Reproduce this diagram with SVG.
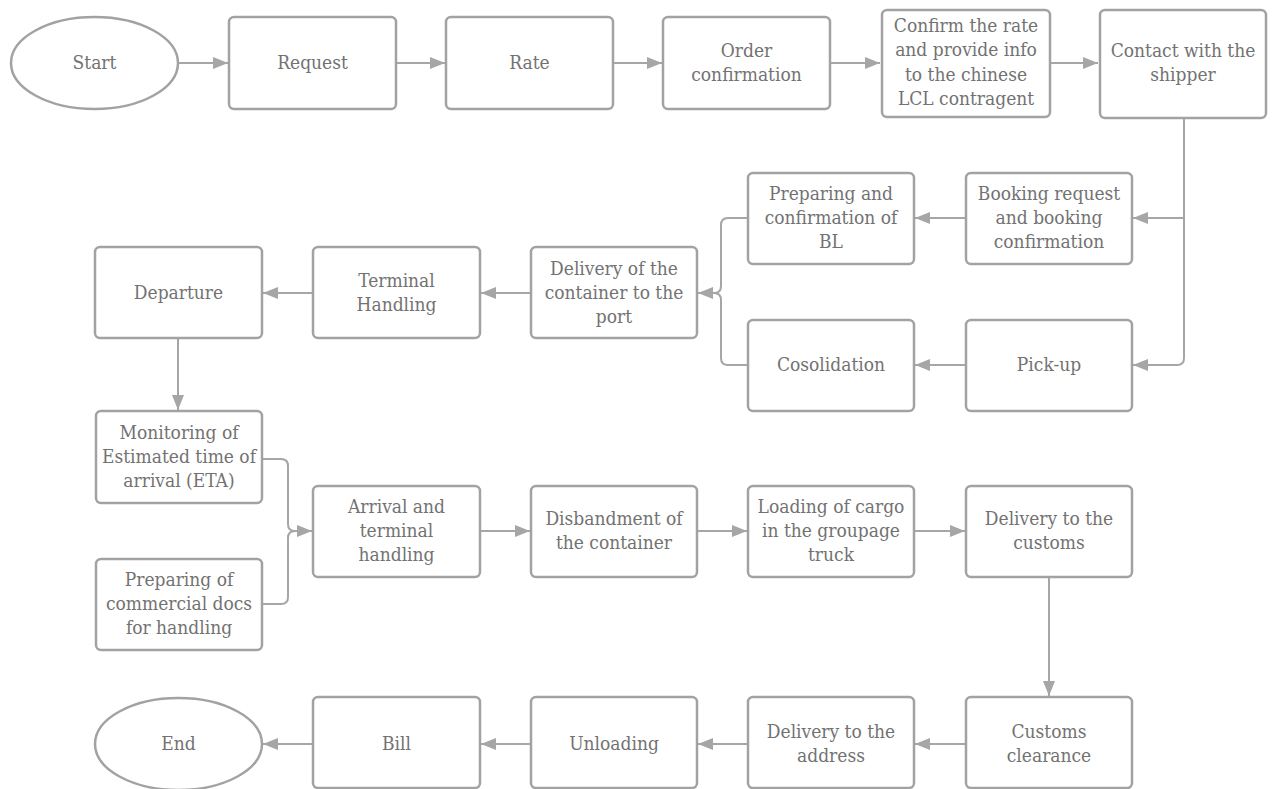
<svg xmlns="http://www.w3.org/2000/svg" width="1275" height="789" viewBox="0 0 1275 789">
  <style>
    .box { fill: #ffffff; stroke: #a2a2a2; stroke-width: 2.5; }
    .lbl { font-family: "DejaVu Serif", serif; font-stretch: condensed; font-size: 19px; fill: #727272; text-anchor: middle; }
    .wire { fill: none; stroke: #a6a6a6; stroke-width: 2; }
  </style>
  <defs>
    <marker id="arrow" markerUnits="userSpaceOnUse" markerWidth="16" markerHeight="12" refX="15" refY="6" orient="auto">
      <path d="M0,0 L15,6 L0,12 Z" fill="#a6a6a6"/>
    </marker>
  </defs>
  <rect width="1275" height="789" fill="#ffffff"/>

  <!-- connectors -->
  <g id="connectors" class="wire" marker-end="url(#arrow)">
    <path d="M178,63 H228"/>
    <path d="M396,63 H445"/>
    <path d="M613,63 H662"/>
    <path d="M830,63 H880"/>
    <path d="M1050,63 H1098"/>
    <path d="M1184,118 V358 Q1184,365 1177,365 H1133"/>
    <path d="M1184,218 H1133"/>
    <path d="M966,218 H915"/>
    <path d="M966,365 H915"/>
    <path d="M748,218 H728 Q721,218 721,225 V286 Q721,293 714,293 H698"/>
    <path d="M748,365 H728 Q721,365 721,358 V300 Q721,293 714,293" marker-end="none"/>
    <path d="M531,293 H481"/>
    <path d="M313,293 H263"/>
    <path d="M178,338 V410"/>
    <path d="M262,459 H281 Q288,459 288,466 V524 Q288,531 295,531 H312"/>
    <path d="M262,604 H281 Q288,604 288,597 V538 Q288,531 295,531" marker-end="none"/>
    <path d="M480,531 H530"/>
    <path d="M697,531 H747"/>
    <path d="M914,531 H965"/>
    <path d="M1049,577 V696"/>
    <path d="M966,744 H915"/>
    <path d="M748,744 H698"/>
    <path d="M531,744 H481"/>
    <path d="M313,744 H263"/>
  </g>

  <!-- row 1 -->
  <g id="start">
    <ellipse class="box" cx="94.5" cy="63" rx="83.5" ry="46"/>
    <text class="lbl" x="94.5" y="69">Start</text>
  </g>
  <g id="request">
    <rect class="box" x="229" y="17" width="167" height="92" rx="5"/>
    <text class="lbl" x="312.5" y="69">Request</text>
  </g>
  <g id="rate">
    <rect class="box" x="446" y="17" width="167" height="92" rx="5"/>
    <text class="lbl" x="529.5" y="69">Rate</text>
  </g>
  <g id="order-confirmation">
    <rect class="box" x="663" y="17" width="167" height="92" rx="5"/>
    <text class="lbl" x="746.5" y="57">Order</text>
    <text class="lbl" x="746.5" y="81">confirmation</text>
  </g>
  <g id="confirm-rate">
    <rect class="box" x="882" y="10" width="168" height="107" rx="5"/>
    <text class="lbl" x="966" y="32">Confirm the rate</text>
    <text class="lbl" x="966" y="56">and provide info</text>
    <text class="lbl" x="966" y="81">to the chinese</text>
    <text class="lbl" x="966" y="105">LCL contragent</text>
  </g>
  <g id="contact-shipper">
    <rect class="box" x="1100" y="10" width="166" height="108" rx="5"/>
    <text class="lbl" x="1183" y="57">Contact with the</text>
    <text class="lbl" x="1183" y="81">shipper</text>
  </g>

  <!-- row 2 -->
  <g id="preparing-bl">
    <rect class="box" x="748" y="173" width="166" height="91" rx="5"/>
    <text class="lbl" x="831" y="200">Preparing and</text>
    <text class="lbl" x="831" y="224">confirmation of</text>
    <text class="lbl" x="831" y="248">BL</text>
  </g>
  <g id="booking">
    <rect class="box" x="966" y="173" width="166" height="91" rx="5"/>
    <text class="lbl" x="1049" y="200">Booking request</text>
    <text class="lbl" x="1049" y="224">and booking</text>
    <text class="lbl" x="1049" y="248">confirmation</text>
  </g>
  <g id="cosolidation">
    <rect class="box" x="748" y="320" width="166" height="91" rx="5"/>
    <text class="lbl" x="831" y="371">Cosolidation</text>
  </g>
  <g id="pick-up">
    <rect class="box" x="966" y="320" width="166" height="91" rx="5"/>
    <text class="lbl" x="1049" y="371">Pick-up</text>
  </g>

  <!-- row 3 -->
  <g id="delivery-port">
    <rect class="box" x="531" y="247" width="166" height="91" rx="5"/>
    <text class="lbl" x="614" y="275">Delivery of the</text>
    <text class="lbl" x="614" y="299">container to the</text>
    <text class="lbl" x="614" y="323">port</text>
  </g>
  <g id="terminal-handling">
    <rect class="box" x="313" y="247" width="167" height="91" rx="5"/>
    <text class="lbl" x="396.5" y="287">Terminal</text>
    <text class="lbl" x="396.5" y="311">Handling</text>
  </g>
  <g id="departure">
    <rect class="box" x="95" y="247" width="167" height="91" rx="5"/>
    <text class="lbl" x="178.5" y="299">Departure</text>
  </g>

  <!-- row 4 -->
  <g id="monitoring-eta">
    <rect class="box" x="96" y="411" width="166" height="92" rx="5"/>
    <text class="lbl" x="179" y="439">Monitoring of</text>
    <text class="lbl" x="179" y="463">Estimated time of</text>
    <text class="lbl" x="179" y="487">arrival (ETA)</text>
  </g>
  <g id="commercial-docs">
    <rect class="box" x="96" y="559" width="166" height="91" rx="5"/>
    <text class="lbl" x="179" y="586">Preparing of</text>
    <text class="lbl" x="179" y="610">commercial docs</text>
    <text class="lbl" x="179" y="634">for handling</text>
  </g>
  <g id="arrival">
    <rect class="box" x="313" y="486" width="167" height="91" rx="5"/>
    <text class="lbl" x="396.5" y="513">Arrival and</text>
    <text class="lbl" x="396.5" y="537">terminal</text>
    <text class="lbl" x="396.5" y="561">handling</text>
  </g>
  <g id="disbandment">
    <rect class="box" x="531" y="486" width="166" height="91" rx="5"/>
    <text class="lbl" x="614" y="525">Disbandment of</text>
    <text class="lbl" x="614" y="549">the container</text>
  </g>
  <g id="loading-cargo">
    <rect class="box" x="748" y="486" width="166" height="91" rx="5"/>
    <text class="lbl" x="831" y="513">Loading of cargo</text>
    <text class="lbl" x="831" y="537">in the groupage</text>
    <text class="lbl" x="831" y="561">truck</text>
  </g>
  <g id="delivery-customs">
    <rect class="box" x="966" y="486" width="166" height="91" rx="5"/>
    <text class="lbl" x="1049" y="525">Delivery to the</text>
    <text class="lbl" x="1049" y="549">customs</text>
  </g>

  <!-- row 5 -->
  <g id="customs-clearance">
    <rect class="box" x="966" y="697" width="166" height="91" rx="5"/>
    <text class="lbl" x="1049" y="738">Customs</text>
    <text class="lbl" x="1049" y="762">clearance</text>
  </g>
  <g id="delivery-address">
    <rect class="box" x="748" y="697" width="166" height="91" rx="5"/>
    <text class="lbl" x="831" y="738">Delivery to the</text>
    <text class="lbl" x="831" y="762">address</text>
  </g>
  <g id="unloading">
    <rect class="box" x="531" y="697" width="166" height="91" rx="5"/>
    <text class="lbl" x="614" y="750">Unloading</text>
  </g>
  <g id="bill">
    <rect class="box" x="313" y="697" width="167" height="91" rx="5"/>
    <text class="lbl" x="396.5" y="750">Bill</text>
  </g>
  <g id="end">
    <ellipse class="box" cx="178.5" cy="744" rx="83.5" ry="46"/>
    <text class="lbl" x="178.5" y="750">End</text>
  </g>
</svg>
